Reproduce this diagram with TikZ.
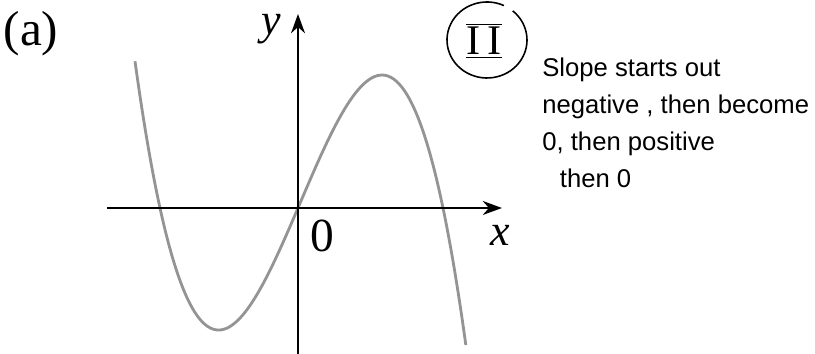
\documentclass[tikz,border=0pt]{standalone}
\usepackage{fontspec}
\setmainfont{Liberation Serif}
\newfontfamily\handfont{Liberation Sans}
\usetikzlibrary{arrows.meta}

\begin{document}
\begin{tikzpicture}[x=2cm, y=2cm,
    axis/.style={-{Stealth[length=11pt,width=8pt]}, line width=0.8pt},
    curve/.style={line width=1.6pt, color=black!42},
    lbl/.style={font=\fontsize{25}{30}\selectfont, inner sep=0pt}]
    \useasboundingbox (0,0) rectangle (8.15,3.54);

    % graph of the cubic
    \draw[curve] plot[domain=-1.63:1.68, samples=120, smooth]
        ({2.98+\x}, {1.46-1.169*\x*(\x+1.38)*(\x-1.45)});

    % axes
    \coordinate (xl) at (1.07,1.46);
    \coordinate (xr) at (5.02,1.46);
    \coordinate (yb) at (2.98,0);
    \coordinate (yt) at (2.98,3.40);
    \draw[axis] (xl) -- (xr);
    \draw[axis] (yb) -- (yt);

    \node[lbl, font=\fontsize{28}{32}\selectfont] (part) at (0.31,3.20) {(a)};
    \node[lbl] (ylab) at (2.71,3.25) {\itshape y};
    \node[lbl, font=\fontsize{27}{30}\selectfont] (zero) at (3.22,1.18) {0};
    \node[lbl] (xlab) at (5.00,1.19) {\itshape x};

    % circled numeral
    \node[font=\fontsize{24}{28}\selectfont, inner sep=0pt] (num) at (4.84,3.13)
        {$\overline{\underline{\mathrm{I\,I}}}$};
    \draw[line width=0.9pt] (4.87,3.14) ++(65:0.40 and 0.38)
        arc[start angle=65, end angle=410, x radius=0.40, y radius=0.38];

    % handwritten note
    \node[anchor=north west, align=left, inner sep=0pt,
          font=\handfont\fontsize{14.6}{21}\selectfont] (note) at (5.42,2.96)
        {Slope starts out\\negative , then become\\0, then positive\\\hspace{10pt}then 0};
\end{tikzpicture}
\end{document}
